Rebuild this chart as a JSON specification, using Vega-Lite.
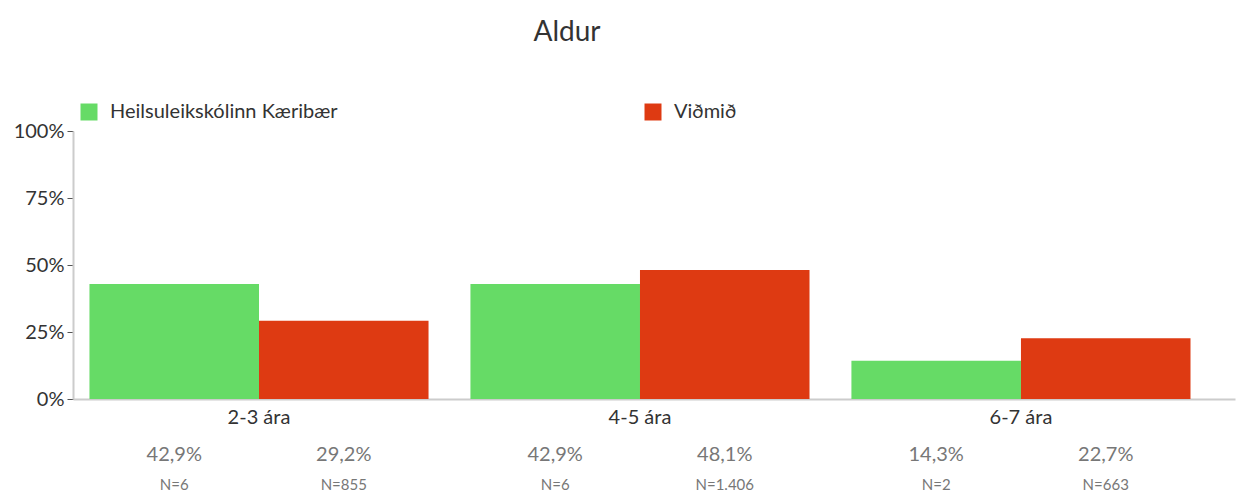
{
  "$schema": "https://vega.github.io/schema/vega-lite/v6.json",
  "width": 1162,
  "height": 268,
  "autosize": {"type": "none"},
  "padding": {"left": 73, "top": 131, "right": 6, "bottom": 95},
  "config": {"view": {"stroke": null}, "font": "Lato"},
  "title": {"text": "Aldur", "fontSize": 28, "fontWeight": "normal", "color": "#333333", "dx": -87, "offset": 55, "font": "Lato"},
  "data": {
    "values": [
      {"group": "2-3 ára", "series": "Heilsuleikskólinn Kæribær", "value": 0.429, "pct": "42,9%", "n": "N=6"},
      {"group": "2-3 ára", "series": "Viðmið", "value": 0.292, "pct": "29,2%", "n": "N=855"},
      {"group": "4-5 ára", "series": "Heilsuleikskólinn Kæribær", "value": 0.429, "pct": "42,9%", "n": "N=6"},
      {"group": "4-5 ára", "series": "Viðmið", "value": 0.481, "pct": "48,1%", "n": "N=1.406"},
      {"group": "6-7 ára", "series": "Heilsuleikskólinn Kæribær", "value": 0.143, "pct": "14,3%", "n": "N=2"},
      {"group": "6-7 ára", "series": "Viðmið", "value": 0.227, "pct": "22,7%", "n": "N=663"}
    ]
  },
  "encoding": {
    "x": {
      "field": "group", "type": "nominal", "sort": null,
      "scale": {"paddingInner": 0.11, "paddingOuter": 0.08, "align": 0.27},
      "axis": {"title": null, "labelAngle": 0, "ticks": false, "domainColor": "#cccccc", "domainWidth": 2, "labelFontSize": 20, "labelColor": "#333333", "labelPadding": 8, "labelFont": "Lato"}
    },
    "xOffset": {"field": "series", "type": "nominal", "sort": null}
  },
  "layer": [
    {
      "mark": {"type": "bar"},
      "encoding": {
        "y": {
          "field": "value", "type": "quantitative",
          "scale": {"domain": [0, 1]},
          "axis": {"title": null, "values": [0, 0.25, 0.5, 0.75, 1], "format": ".0%", "grid": false, "labelFontSize": 20, "labelColor": "#333333", "tickColor": "#555555", "tickSize": 6, "labelPadding": 3, "domainColor": "#cccccc", "domainWidth": 2, "labelFont": "Lato"}
        },
        "color": {
          "field": "series", "type": "nominal", "sort": null,
          "scale": {"domain": ["Heilsuleikskólinn Kæribær", "Viðmið"], "range": ["#66db66", "#de3a12"]},
          "legend": {"title": null, "orient": "none", "legendX": 6, "legendY": -29, "direction": "horizontal", "symbolType": "square", "symbolSize": 289, "symbolStrokeWidth": 0, "labelFontSize": 20, "labelColor": "#333333", "labelOffset": 11, "labelLimit": 500, "columnPadding": 305, "labelFont": "Lato"}
        }
      }
    },
    {
      "mark": {"type": "text", "fontSize": 20, "color": "#777777", "baseline": "middle", "dy": 56},
      "encoding": {"y": {"datum": 0}, "text": {"field": "pct"}}
    },
    {
      "mark": {"type": "text", "fontSize": 15, "color": "#777777", "baseline": "middle", "dy": 86},
      "encoding": {"y": {"datum": 0}, "text": {"field": "n"}}
    }
  ]
}
